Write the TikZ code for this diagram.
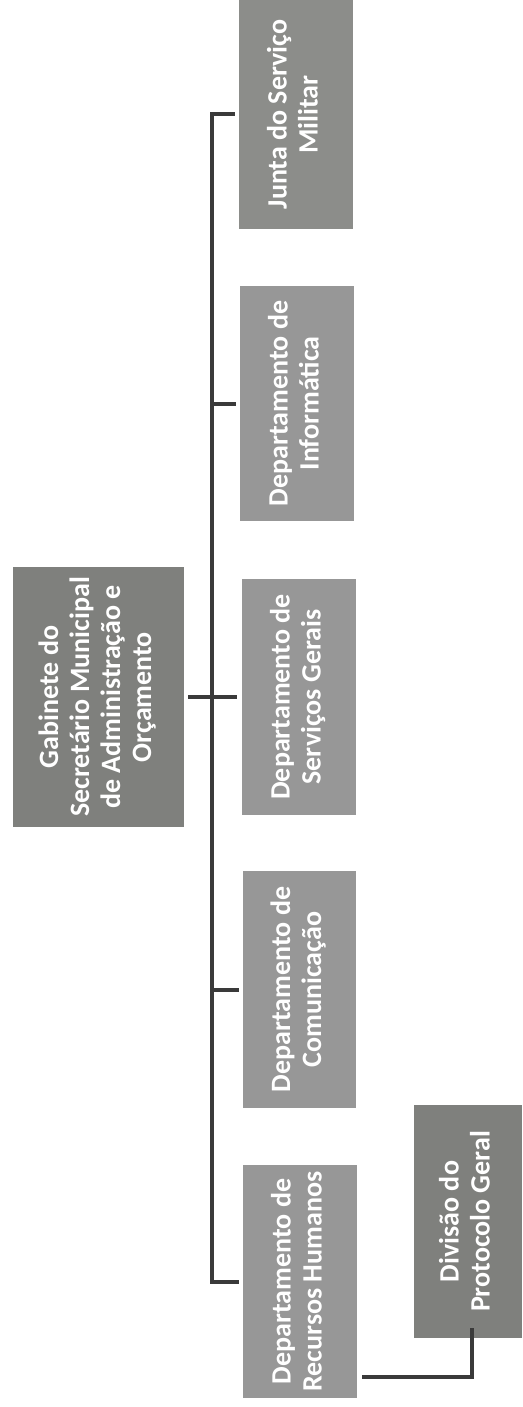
\documentclass[tikz,border=0pt]{standalone}
\usepackage{fontspec}
\setmainfont{Carlito}
\usepackage{graphicx}
\definecolor{boxA}{HTML}{8C8D8A}
\definecolor{boxB}{HTML}{979797}
\definecolor{boxC}{HTML}{7F807D}
\definecolor{linkc}{HTML}{3A3A3A}
\newcommand{\vlabel}[1]{\rotatebox{90}{\fontsize{28}{31}\selectfont\bfseries\begin{tabular}{@{}c@{}}#1\end{tabular}}}
\tikzset{
  unit/.style={rectangle, inner sep=0pt, text=white, fill=#1},
  unit/.default=boxB,
  link/.style={draw=linkc, line width=4pt, line cap=rect}
}
\begin{document}
\begin{tikzpicture}[x=1pt, y=-1pt]
  \useasboundingbox[fill=white] (0,0) rectangle (522,1407);

  % top unit
  \node[unit=boxC, minimum width=171pt, minimum height=260pt] (gab) at (98.5,697)
    {\vlabel{Gabinete do\\Secretário Municipal\\de Administração e\\Orçamento}};

  % departments
  \node[unit=boxA, minimum width=114pt, minimum height=229pt] (junta) at (296,114.5)
    {\vlabel{Junta do Serviço\\Militar}};
  \node[unit, minimum width=114pt, minimum height=235pt] (info) at (297,403.5)
    {\vlabel{Departamento de\\Informática}};
  \node[unit, minimum width=114pt, minimum height=236pt] (serv) at (299,697)
    {\vlabel{Departamento de\\Serviços Gerais}};
  \node[unit, minimum width=113pt, minimum height=237pt] (com) at (299.5,989.5)
    {\vlabel{Departamento de\\Comunicação}};
  \node[unit, minimum width=114pt, minimum height=233pt] (rh) at (300,1281.5)
    {\vlabel{Departamento de\\Recursos Humanos}};

  % division under human resources
  \node[unit=boxC, minimum width=108pt, minimum height=233pt] (div) at (468,1221.5)
    {\vlabel{Divisão do\\Protocolo Geral}};

  % main bus
  \draw[link] ([xshift=-6pt]junta.west) -- ++(-21,0) coordinate (bt)
    -- (bt |- rh.west) -- ([xshift=-6pt]rh.west);
  \draw[link] ([xshift=-6pt]info.west) -- (info.west -| bt);
  \draw[link] ([xshift=-6pt]com.west) -- (com.west -| bt);
  \draw[link] ([xshift=6pt]gab.east) -- ([xshift=-7pt]serv.west);

  % human resources to division
  \coordinate (rd) at (472,1377);
  \draw[link] ([xshift=7pt]rh.east |- rd) -- (rd) -- ([yshift=8pt]rd |- div.south);
\end{tikzpicture}
\end{document}
